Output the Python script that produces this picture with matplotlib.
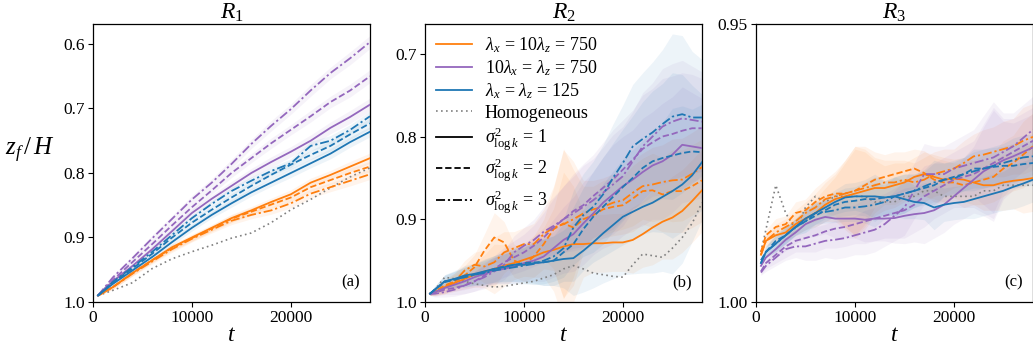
import numpy as np
import matplotlib
matplotlib.use("Agg")
import matplotlib.pyplot as plt
from matplotlib.lines import Line2D

plt.rcParams['font.family'] = ['Liberation Serif', 'DejaVu Serif']
plt.rcParams['mathtext.fontset'] = 'custom'
plt.rcParams['mathtext.rm'] = 'Liberation Serif'
plt.rcParams['mathtext.it'] = 'Liberation Serif:italic'
plt.rcParams['mathtext.bf'] = 'Liberation Serif:bold'

# ---------------- data ----------------
t_r1 = [500, 2000, 4000, 6000, 8000, 10000, 12000, 14000, 16000, 18000, 20000, 22000, 24000, 26000, 28000]
t_r23 = [500] + list(range(1000, 28001, 1000))

# R1 curves
r1_orange_1 = [0.99, 0.977, 0.955, 0.935, 0.915, 0.900, 0.885, 0.870, 0.858, 0.845, 0.833, 0.815, 0.803, 0.790, 0.777]
r1_orange_2 = [0.99, 0.977, 0.955, 0.935, 0.916, 0.901, 0.886, 0.871, 0.860, 0.849, 0.838, 0.822, 0.811, 0.800, 0.790]
r1_orange_3 = [0.99, 0.977, 0.956, 0.937, 0.918, 0.902, 0.888, 0.874, 0.865, 0.858, 0.847, 0.832, 0.822, 0.812, 0.802]
r1_purple_1 = [0.99, 0.968, 0.944, 0.918, 0.890, 0.862, 0.840, 0.820, 0.800, 0.783, 0.767, 0.750, 0.730, 0.713, 0.694]
r1_purple_2 = [0.99, 0.966, 0.938, 0.910, 0.881, 0.853, 0.827, 0.800, 0.777, 0.754, 0.733, 0.712, 0.690, 0.672, 0.650]
r1_purple_3 = [0.99, 0.962, 0.932, 0.901, 0.871, 0.841, 0.815, 0.786, 0.755, 0.727, 0.701, 0.672, 0.645, 0.622, 0.597]
r1_blue_1 = [0.99, 0.972, 0.951, 0.930, 0.907, 0.885, 0.865, 0.847, 0.830, 0.815, 0.800, 0.785, 0.770, 0.752, 0.736]
r1_blue_2 = [0.99, 0.970, 0.948, 0.925, 0.900, 0.877, 0.857, 0.838, 0.820, 0.803, 0.787, 0.772, 0.758, 0.740, 0.723]
r1_blue_3 = [0.99, 0.969, 0.946, 0.922, 0.896, 0.870, 0.848, 0.828, 0.812, 0.797, 0.785, 0.758, 0.750, 0.733, 0.712]
r1_homog = [0.99, 0.982, 0.970, 0.948, 0.933, 0.922, 0.912, 0.901, 0.893, 0.877, 0.857, 0.841, 0.823, 0.806, 0.792]
r1_spread_orange = [0.001, 0.003, 0.004, 0.004, 0.005, 0.005, 0.005, 0.006, 0.006, 0.006, 0.007, 0.007, 0.007, 0.008, 0.008]
r1_spread_purple = [0.001, 0.003, 0.004, 0.005, 0.005, 0.006, 0.006, 0.007, 0.007, 0.008, 0.008, 0.009, 0.009, 0.010, 0.010]
r1_spread_blue = [0.001, 0.003, 0.004, 0.004, 0.005, 0.005, 0.005, 0.006, 0.006, 0.006, 0.007, 0.007, 0.008, 0.008, 0.008]

# R2 curves
r2_orange_1 = [0.99, 0.988, 0.982, 0.977, 0.972, 0.967, 0.963, 0.960, 0.956, 0.953, 0.949, 0.945, 0.940, 0.937, 0.933,
               0.930, 0.930, 0.929, 0.929, 0.928, 0.928, 0.925, 0.918, 0.910, 0.903, 0.898, 0.890, 0.878, 0.865]
r2_orange_2 = [0.99, 0.987, 0.980, 0.975, 0.968, 0.958, 0.938, 0.922, 0.928, 0.950, 0.955, 0.945, 0.930, 0.912, 0.905,
               0.910, 0.900, 0.895, 0.888, 0.885, 0.883, 0.875, 0.866, 0.865, 0.870, 0.866, 0.866, 0.860, 0.853]
r2_orange_3 = [0.99, 0.988, 0.982, 0.975, 0.962, 0.955, 0.957, 0.952, 0.940, 0.935, 0.930, 0.930, 0.918, 0.910, 0.906,
               0.900, 0.893, 0.888, 0.885, 0.880, 0.877, 0.868, 0.860, 0.858, 0.855, 0.853, 0.852, 0.845, 0.837]
r2_purple_1 = [0.99, 0.988, 0.983, 0.979, 0.975, 0.970, 0.966, 0.962, 0.960, 0.957, 0.953, 0.950, 0.945, 0.935, 0.925,
               0.918, 0.905, 0.893, 0.880, 0.870, 0.860, 0.852, 0.843, 0.835, 0.830, 0.822, 0.810, 0.812, 0.814]
r2_purple_2 = [0.99, 0.989, 0.985, 0.983, 0.980, 0.975, 0.968, 0.960, 0.952, 0.946, 0.940, 0.932, 0.922, 0.910, 0.900,
               0.890, 0.883, 0.872, 0.862, 0.852, 0.840, 0.828, 0.815, 0.807, 0.800, 0.797, 0.793, 0.790, 0.790]
r2_purple_3 = [0.99, 0.990, 0.988, 0.985, 0.980, 0.975, 0.970, 0.963, 0.955, 0.940, 0.932, 0.925, 0.915, 0.908, 0.900,
               0.893, 0.885, 0.877, 0.868, 0.858, 0.848, 0.830, 0.812, 0.800, 0.788, 0.782, 0.778, 0.780, 0.782]
r2_blue_1 = [0.99, 0.985, 0.975, 0.972, 0.968, 0.966, 0.963, 0.960, 0.958, 0.955, 0.955, 0.953, 0.952, 0.950, 0.948,
             0.947, 0.938, 0.928, 0.917, 0.907, 0.897, 0.891, 0.885, 0.880, 0.873, 0.866, 0.858, 0.847, 0.831]
r2_blue_2 = [0.99, 0.985, 0.976, 0.973, 0.970, 0.967, 0.964, 0.960, 0.957, 0.955, 0.953, 0.952, 0.952, 0.950, 0.940,
             0.930, 0.912, 0.897, 0.885, 0.873, 0.861, 0.850, 0.838, 0.830, 0.826, 0.823, 0.820, 0.818, 0.819]
r2_blue_3 = [0.99, 0.985, 0.975, 0.973, 0.970, 0.967, 0.965, 0.962, 0.960, 0.958, 0.956, 0.954, 0.950, 0.945, 0.935,
             0.910, 0.895, 0.885, 0.870, 0.850, 0.832, 0.812, 0.803, 0.795, 0.785, 0.776, 0.773, 0.777, 0.777]
r2_homog = [0.99, 0.985, 0.970, 0.972, 0.975, 0.978, 0.980, 0.982, 0.981, 0.979, 0.977, 0.975, 0.971, 0.967, 0.960,
            0.956, 0.960, 0.965, 0.967, 0.969, 0.970, 0.955, 0.942, 0.944, 0.946, 0.935, 0.922, 0.905, 0.880]
r2_spread_orange = [0.002, 0.004, 0.008, 0.010, 0.012, 0.015, 0.020, 0.030, 0.025, 0.020, 0.020, 0.025, 0.030, 0.050, 0.090,
                    0.070, 0.040, 0.035, 0.035, 0.035, 0.035, 0.040, 0.040, 0.045, 0.045, 0.050, 0.050, 0.050, 0.050]
r2_spread_purple = [0.002, 0.004, 0.006, 0.008, 0.010, 0.012, 0.014, 0.016, 0.018, 0.020, 0.022, 0.025, 0.030, 0.035, 0.040,
                    0.045, 0.050, 0.050, 0.055, 0.060, 0.060, 0.060, 0.065, 0.065, 0.070, 0.070, 0.070, 0.065, 0.060]
r2_spread_blue = [0.002, 0.004, 0.008, 0.010, 0.012, 0.013, 0.015, 0.016, 0.018, 0.020, 0.022, 0.025, 0.028, 0.030, 0.035,
                  0.045, 0.050, 0.055, 0.060, 0.065, 0.070, 0.075, 0.080, 0.085, 0.090, 0.100, 0.095, 0.080, 0.070]

# R3 curves
r3_orange_1 = [0.9915, 0.989, 0.988, 0.9875, 0.986, 0.985, 0.984, 0.9825, 0.9815, 0.981, 0.9805, 0.980, 0.9795, 0.9795, 0.979,
               0.9785, 0.9775, 0.977, 0.9775, 0.978, 0.9778, 0.978, 0.9785, 0.979, 0.979, 0.9785, 0.9782, 0.978, 0.9777]
r3_orange_2 = [0.991, 0.988, 0.9865, 0.986, 0.984, 0.9835, 0.982, 0.981, 0.9805, 0.9805, 0.980, 0.979, 0.978, 0.9775, 0.977,
               0.9765, 0.976, 0.9768, 0.978, 0.9785, 0.9785, 0.979, 0.9785, 0.978, 0.9775, 0.976, 0.975, 0.9735, 0.972]
r3_orange_3 = [0.9915, 0.989, 0.9875, 0.9865, 0.9855, 0.984, 0.983, 0.9815, 0.981, 0.9805, 0.980, 0.9795, 0.979, 0.9785, 0.9785,
               0.978, 0.9785, 0.978, 0.977, 0.9765, 0.976, 0.975, 0.9738, 0.9735, 0.973, 0.9725, 0.972, 0.971, 0.9703]
r3_purple_1 = [0.9935, 0.992, 0.9905, 0.9888, 0.9875, 0.986, 0.9852, 0.9847, 0.985, 0.985, 0.985, 0.9852, 0.985, 0.985, 0.9849,
               0.9845, 0.9842, 0.984, 0.9835, 0.9825, 0.981, 0.9795, 0.978, 0.9765, 0.9755, 0.9745, 0.9738, 0.973, 0.9722]
r3_purple_2 = [0.9945, 0.993, 0.9915, 0.990, 0.989, 0.9885, 0.988, 0.9873, 0.9868, 0.9865, 0.986, 0.9855, 0.985, 0.9845, 0.984,
               0.9835, 0.9825, 0.981, 0.980, 0.979, 0.978, 0.9775, 0.977, 0.976, 0.975, 0.974, 0.973, 0.972, 0.971]
r3_purple_3 = [0.9947, 0.9935, 0.992, 0.9905, 0.990, 0.990, 0.9895, 0.989, 0.9888, 0.9885, 0.988, 0.9875, 0.987, 0.986, 0.9845,
               0.983, 0.980, 0.977, 0.977, 0.977, 0.976, 0.9755, 0.975, 0.9745, 0.974, 0.973, 0.972, 0.9705, 0.969]
r3_blue_1 = [0.993, 0.991, 0.9895, 0.988, 0.9865, 0.985, 0.984, 0.983, 0.982, 0.9812, 0.981, 0.981, 0.981, 0.9812, 0.981,
             0.9815, 0.982, 0.9822, 0.983, 0.9825, 0.9822, 0.982, 0.9815, 0.981, 0.9805, 0.980, 0.9793, 0.9787, 0.978]
r3_blue_2 = [0.9925, 0.991, 0.989, 0.988, 0.9865, 0.9855, 0.9845, 0.9835, 0.9825, 0.982, 0.9818, 0.9815, 0.9815, 0.9812, 0.981,
             0.9805, 0.980, 0.9795, 0.979, 0.978, 0.9775, 0.977, 0.976, 0.976, 0.9757, 0.9755, 0.9755, 0.9752, 0.975]
r3_blue_3 = [0.993, 0.991, 0.9895, 0.988, 0.9865, 0.9855, 0.984, 0.9838, 0.9835, 0.983, 0.983, 0.9828, 0.9825, 0.982, 0.981,
             0.9805, 0.980, 0.9792, 0.9785, 0.978, 0.9778, 0.977, 0.9765, 0.976, 0.9755, 0.975, 0.9745, 0.974, 0.9738]
r3_homog = [0.991, 0.987, 0.979, 0.984, 0.987, 0.983, 0.981, 0.982, 0.981, 0.981, 0.981, 0.981, 0.982, 0.982, 0.982,
            0.981, 0.981, 0.980, 0.980, 0.981, 0.981, 0.981, 0.981, 0.980, 0.980, 0.979, 0.979, 0.979, 0.979]
r3_spread_orange = [0.0005, 0.001, 0.0015, 0.0015, 0.002, 0.002, 0.0025, 0.003, 0.004, 0.006, 0.008, 0.007, 0.005, 0.004, 0.004,
                    0.0035, 0.0035, 0.004, 0.004, 0.004, 0.0035, 0.004, 0.004, 0.0045, 0.0045, 0.005, 0.005, 0.006, 0.006]
r3_spread_purple = [0.0005, 0.001, 0.0015, 0.002, 0.002, 0.0025, 0.003, 0.003, 0.0035, 0.0035, 0.0035, 0.004, 0.004, 0.004, 0.0045,
                    0.005, 0.005, 0.0055, 0.005, 0.005, 0.005, 0.0055, 0.006, 0.008, 0.010, 0.007, 0.006, 0.006, 0.006]
r3_spread_blue = [0.0005, 0.001, 0.0015, 0.0015, 0.0015, 0.002, 0.002, 0.002, 0.0022, 0.0025, 0.0025, 0.003, 0.004, 0.003, 0.0035,
                  0.0035, 0.003, 0.003, 0.004, 0.003, 0.003, 0.003, 0.0035, 0.0035, 0.0035, 0.0035, 0.004, 0.004, 0.004]

panel_titles = [r'$R_1$', r'$R_2$', r'$R_3$']
panel_tags = ['(a)', '(b)', '(c)']
legend_labels = [r'$\lambda_x\,=\,10\lambda_z\,=\,750$', r'$10\lambda_x\,=\,\lambda_z\,=\,750$',
                 r'$\lambda_x\,=\,\lambda_z\,=\,125$', 'Homogeneous',
                 r'$\sigma^2_{\log k}\,=\,1$', r'$\sigma^2_{\log k}\,=\,2$', r'$\sigma^2_{\log k}\,=\,3$']

C_OR = '#ff7f0e'
C_PU = '#9467bd'
C_BL = '#1f77b4'
LS = ['-', (0, (3.5, 1.6)), (0, (5, 1.6, 1.2, 1.6))]

panels = [
    dict(t=t_r1, orange=[r1_orange_1, r1_orange_2, r1_orange_3], purple=[r1_purple_1, r1_purple_2, r1_purple_3],
         blue=[r1_blue_1, r1_blue_2, r1_blue_3], homog=r1_homog,
         spread=dict(orange=r1_spread_orange, purple=r1_spread_purple, blue=r1_spread_blue),
         ylim=(1.0, 0.569), yticks=[0.6, 0.7, 0.8, 0.9, 1.0], yfmt='%.1f'),
    dict(t=t_r23, orange=[r2_orange_1, r2_orange_2, r2_orange_3], purple=[r2_purple_1, r2_purple_2, r2_purple_3],
         blue=[r2_blue_1, r2_blue_2, r2_blue_3], homog=r2_homog,
         spread=dict(orange=r2_spread_orange, purple=r2_spread_purple, blue=r2_spread_blue),
         ylim=(1.0, 0.664), yticks=[0.7, 0.8, 0.9, 1.0], yfmt='%.1f'),
    dict(t=t_r23, orange=[r3_orange_1, r3_orange_2, r3_orange_3], purple=[r3_purple_1, r3_purple_2, r3_purple_3],
         blue=[r3_blue_1, r3_blue_2, r3_blue_3], homog=r3_homog,
         spread=dict(orange=r3_spread_orange, purple=r3_spread_purple, blue=r3_spread_blue),
         ylim=(1.0, 0.95), yticks=[0.95, 1.0], yfmt='%.2f'),
]

W, H = 1033, 348
fig = plt.figure(figsize=(W / 100, H / 100), dpi=100)
lefts = [93, 425, 756]
aw = 277
bottom_px, top_px = 302, 24

colors = dict(orange=C_OR, purple=C_PU, blue=C_BL)
for i, p in enumerate(panels):
    ax = fig.add_axes([lefts[i] / W, 1 - bottom_px / H, aw / W, (bottom_px - top_px) / H])
    t = np.array(p['t'])
    for cname in ['orange', 'purple', 'blue']:
        sp = np.array(p['spread'][cname])
        for k, y in enumerate(p[cname]):
            y = np.array(y)
            ax.fill_between(t, y - sp, y + sp, color=colors[cname], alpha=0.08, lw=0)
    ax.plot(t, p['homog'], color='gray', ls=(0, (1, 2)), lw=1.2, zorder=3)
    for cname in ['orange', 'purple', 'blue']:
        for k, y in enumerate(p[cname]):
            ax.plot(t, y, color=colors[cname], ls=LS[k], lw=1.3, zorder=4)
    ax.set_xlim(0, 28000)
    ax.set_ylim(*p['ylim'])
    ax.set_yticks(p['yticks'])
    ax.set_yticklabels([p['yfmt'] % v for v in p['yticks']])
    ax.set_xticks([0, 10000, 20000])
    ax.set_xticklabels(['0', '10000', '20000'])
    ax.tick_params(labelsize=12.5, length=3.5, width=0.8, pad=2.5)
    ax.set_title(panel_titles[i], fontsize=17, pad=3)
    ax.set_xlabel(r'$t$', fontsize=17, labelpad=-1)
    ax.text(0.965, 0.04, panel_tags[i], transform=ax.transAxes, ha='right', va='bottom', fontsize=12)
    for s in ax.spines.values():
        s.set_linewidth(0.9)
    if i == 1:
        handles = [Line2D([], [], color=C_OR, lw=1.3), Line2D([], [], color=C_PU, lw=1.3),
                   Line2D([], [], color=C_BL, lw=1.3), Line2D([], [], color='gray', ls=(0, (1, 2)), lw=1.2),
                   Line2D([], [], color='k', lw=1.3, ls=LS[0]), Line2D([], [], color='k', lw=1.3, ls=LS[1]),
                   Line2D([], [], color='k', lw=1.3, ls=LS[2])]
        ax.legend(handles, legend_labels, loc='upper left', frameon=False, fontsize=13,
                  handlelength=2.0, labelspacing=0.2, borderaxespad=0.3, handletextpad=0.7,
                  borderpad=0.3)

fig.text(30 / W, 1 - 150 / H, r'$z_f\,/\,H$', fontsize=18, ha='center', va='center')
fig.savefig('out.png', dpi=100)
